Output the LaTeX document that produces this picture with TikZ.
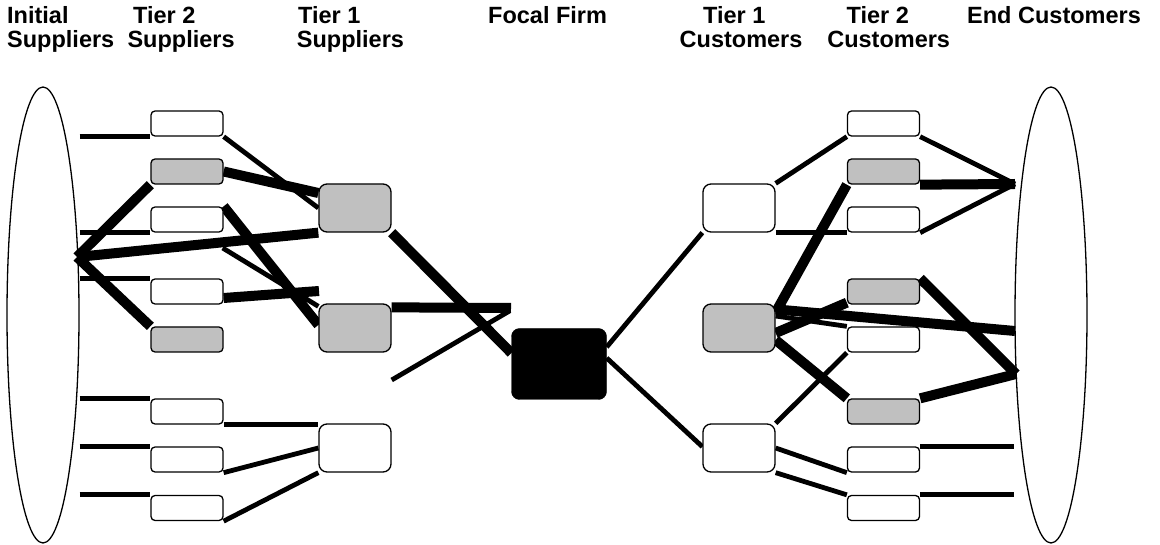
\documentclass[tikz,border=0pt]{standalone}
\usepackage{fontspec}
\setmainfont{Liberation Sans}
\usetikzlibrary{shapes.geometric,calc,backgrounds}
\definecolor{boxgray}{RGB}{192,192,192}
\begin{document}
\begin{tikzpicture}[x=1pt,y=-1pt,
  sbox/.style={draw,line width=1.3pt,rounded corners=4pt,minimum width=72pt,minimum height=25pt,inner sep=0pt,fill=white},
  gbox/.style={sbox,fill=boxgray},
  bbox/.style={draw,line width=1.3pt,rounded corners=8pt,minimum width=72pt,minimum height=48pt,inner sep=0pt,fill=white},
  bgbox/.style={bbox,fill=boxgray},
  focal/.style={draw,fill=black,rounded corners=8pt,minimum width=95pt,minimum height=71pt,inner sep=0pt},
  cloud/.style={draw,ellipse,line width=1.3pt,minimum width=72pt,minimum height=456pt,inner sep=0pt},
  thinl/.style={line width=4.8pt},
  thickl/.style={line width=10pt},
  hdr/.style={anchor=base west,inner sep=0pt,font=\fontsize{23.5}{24}\bfseries\selectfont}
]
\useasboundingbox (0,0) rectangle (1160,545);

% headers
\node[hdr] (h1a) at (7,24) {Initial};
\node[hdr] (h1b) at (7,48) {Suppliers};
\node[hdr] (h2a) at (133,24) {Tier 2};
\node[hdr] (h2b) at (127.3,48) {Suppliers};
\node[hdr] (h3a) at (298,24) {Tier 1};
\node[hdr] (h3b) at (296.7,48) {Suppliers};
\node[hdr] (h4a) at (488,24) {Focal Firm};
\node[hdr] (h5a) at (703,24) {Tier 1};
\node[hdr] (h5b) at (679.5,48) {Customers};
\node[hdr] (h6a) at (846.4,24) {Tier 2};
\node[hdr] (h6b) at (827.1,48) {Customers};
\node[hdr] (h7a) at (967,24) {End Customers};

% clouds
\node[cloud] (lell) at (43,315) {};
\node[cloud] (rell) at (1051,315) {};

% tier 2 suppliers
\node[sbox] (s1) at (187,123.5) {};
\node[gbox] (s2) at (187,171.5) {};
\node[sbox] (s3) at (187,219.5) {};
\node[sbox] (s4) at (187,291.5) {};
\node[gbox] (s5) at (187,339.5) {};
\node[sbox] (s6) at (187,411.5) {};
\node[sbox] (s7) at (187,459.5) {};
\node[sbox] (s8) at (187,508) {};

% tier 1 suppliers
\node[bgbox] (p1) at (355,208) {};
\node[bgbox] (p2) at (355,328) {};
\node[bbox] (p3) at (355,448) {};

% focal firm
\node[focal] (f) at (559,364) {};

% tier 1 customers
\node[bbox] (c1) at (739,208) {};
\node[bgbox] (c2) at (739,328) {};
\node[bbox] (c3) at (739,448) {};

% tier 2 customers
\node[sbox] (d1) at (883.5,123.5) {};
\node[gbox] (d2) at (883.5,171.5) {};
\node[sbox] (d3) at (883.5,219.5) {};
\node[gbox] (d4) at (883.5,291.5) {};
\node[sbox] (d5) at (883.5,339.5) {};
\node[gbox] (d6) at (883.5,411.5) {};
\node[sbox] (d7) at (883.5,459.5) {};
\node[sbox] (d8) at (883.5,508) {};

% free ends
\coordinate (eL) at (77,257);
\coordinate (fr1) at (222.7,248);
\coordinate (fr2) at (319,291);
\coordinate (m2e) at (511,308);
\coordinate (m3a) at (391.7,380);
\coordinate (m3b) at (510,310.7);
\coordinate (eR1) at (1015,184);
\coordinate (eR2) at (1016,374);
\coordinate (eR8) at (1015,331);

\begin{scope}[on background layer]
% initial suppliers -> tier 2 suppliers
\draw[thinl] (lell.east |- s1.south) -- (s1.south west);
\draw[thickl] (eL) -- (s2.south west);
\draw[thinl] (lell.east |- s3.south) -- (s3.south west);
\draw[thickl] (eL) -- (p1.south west);
\draw[thinl] (lell.east |- s4.north) -- (s4.north west);
\draw[thickl] (eL) -- (s5.north west);
\draw[thinl] (lell.east |- s6.north) -- (s6.north west);
\draw[thinl] (lell.east |- s7.north) -- (s7.north west);
\draw[thinl] (lell.east |- s8.north) -- (s8.north west);
% tier 2 suppliers -> tier 1 suppliers
\draw[thinl] (s1.south east) -- (p1.west);
\draw[thickl] (s2.east) -- ($(p1.west)+(0,-15)$);
\draw[thickl] (s3.north east) -- ($(p2.west)+(0,-3)$);
\draw[thinl] (fr1) -- ($(p2.north west)+(0,3)$);
\draw[thickl] ($(s4.east)+(0,6.5)$) -- (fr2);
\draw[thinl] (s6.south east) -- (s6.south east -| p3.west);
\draw[thinl] (s7.south east) -- (p3.west);
\draw[thinl] (s8.south east) -- (p3.south west);
% tier 1 suppliers -> focal
\draw[thickl] (p1.south east) -- ($(f.west)+(0,-11)$);
\draw[thickl] ($(p2.north east)+(0,4)$) -- (m2e);
\draw[thinl] (m3a) -- (m3b);
% focal -> tier 1 customers
\draw[thinl] ($(f.east)+(0,-17)$) -- (c1.south west);
\draw[thickl] ($(f.east)+(0,-12)$) -- ($(f.east)+(0,-12)$ -| c2.west);
\draw[thinl] ($(f.east)+(0,-6)$) -- ($(c3.west)+(0,-1.3)$);
% tier 1 customers -> tier 2 customers
\draw[thinl] (c1.north east) -- (d1.south west);
\draw[thinl] (c1.south east) -- (c1.south east -| d3.west);
\draw[thickl] ($(c2.north east)+(0,9)$) -- (d2.south west);
\draw[thickl] ($(c2.east)+(0,5)$) -- ($(d4.south west)+(0,-2)$);
\draw[thickl] ($(c2.north east)+(0,6)$) -- (eR8);
\draw[thinl] ($(c2.east)+(0,-12)$) -- (d5.north west);
\draw[thickl] ($(c2.east)+(0,12)$) -- (d6.north west);
\draw[thinl] (d5.south west) -- (c3.north east);
\draw[thinl] (c3.east) -- (d7.south west);
\draw[thinl] (c3.south east) -- (d8.north west);
% tier 2 customers -> end customers
\draw[thinl] (d1.south east) -- (eR1);
\draw[thickl] (d2.south east) -- (eR1);
\draw[thinl] (d3.south east) -- (eR1);
\draw[thickl] (d4.north east) -- (eR2);
\draw[thickl] (d6.north east) -- (eR2);
\draw[thinl] (d7.north east) -- (d7.north east -| rell.west);
\draw[thinl] (d8.north east) -- (d8.north east -| rell.west);
\end{scope}
\end{tikzpicture}
\end{document}
